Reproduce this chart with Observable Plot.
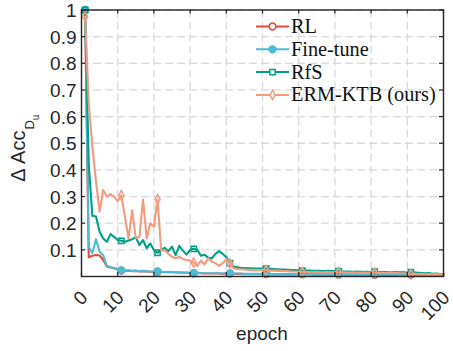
<!DOCTYPE html>
<html><head><meta charset="utf-8">
<script src="https://cdn.jsdelivr.net/npm/d3@7"></script>
<script src="https://cdn.jsdelivr.net/npm/@observablehq/plot@0.6"></script>
<style>body{margin:0;background:#fff} #chart{position:relative;width:453px;height:351px}</style>
</head><body><div id="chart"></div>
<script>
const epochs = d3.range(1, 101);
const xTicks = [0, 10, 20, 30, 40, 50, 60, 70, 80, 90, 100];
const yTicks = [0.1, 0.2, 0.3, 0.4, 0.5, 0.6, 0.7, 0.8, 0.9, 1];
const seriesNames = ["RL", "Fine-tune", "RfS", "ERM-KTB (ours)"];
const seriesColors = ["#E64B35", "#4DBBD5", "#00A087", "#F39B7F"];
const seriesSymbols = ["circle", "circle", "square", "diamond"];
const xLabel = "epoch";

const rl = [1.0, 0.072, 0.078, 0.081, 0.079, 0.062, 0.038, 0.034, 0.031, 0.026,
 0.022, 0.021, 0.022, 0.020, 0.021, 0.019, 0.020, 0.019, 0.018, 0.018,
 0.018, 0.017, 0.016, 0.017, 0.016, 0.015, 0.015, 0.014, 0.014, 0.013,
 0.012, 0.012, 0.012, 0.011, 0.011, 0.011, 0.011, 0.011, 0.010, 0.011,
 0.011, 0.010, 0.010, 0.010, 0.009, 0.009, 0.009, 0.009, 0.009, 0.009,
 0.009, 0.009, 0.008, 0.008, 0.008, 0.008, 0.008, 0.008, 0.008, 0.008,
 0.008, 0.008, 0.008, 0.007, 0.008, 0.007, 0.007, 0.007, 0.007, 0.007,
 0.007, 0.007, 0.007, 0.007, 0.006, 0.007, 0.006, 0.006, 0.006, 0.006,
 0.006, 0.006, 0.006, 0.006, 0.006, 0.006, 0.006, 0.005, 0.006, 0.005,
 0.006, 0.005, 0.005, 0.005, 0.005, 0.005, 0.005, 0.005, 0.005, 0.005];

const fineTune = [1.0, 0.110, 0.088, 0.140, 0.093, 0.080, 0.040, 0.035, 0.032, 0.028,
 0.023, 0.022, 0.023, 0.021, 0.022, 0.020, 0.021, 0.020, 0.019, 0.019,
 0.019, 0.018, 0.017, 0.018, 0.017, 0.016, 0.016, 0.015, 0.015, 0.014,
 0.013, 0.013, 0.013, 0.012, 0.012, 0.012, 0.012, 0.012, 0.011, 0.012,
 0.012, 0.011, 0.011, 0.011, 0.010, 0.010, 0.010, 0.010, 0.010, 0.010,
 0.010, 0.010, 0.009, 0.009, 0.009, 0.009, 0.009, 0.009, 0.009, 0.009,
 0.009, 0.009, 0.009, 0.008, 0.009, 0.008, 0.008, 0.008, 0.008, 0.008,
 0.008, 0.008, 0.008, 0.008, 0.007, 0.008, 0.007, 0.007, 0.007, 0.007,
 0.007, 0.007, 0.007, 0.007, 0.007, 0.007, 0.007, 0.006, 0.007, 0.006,
 0.007, 0.006, 0.006, 0.006, 0.006, 0.006, 0.006, 0.006, 0.006, 0.006];

const rfs = [1.0, 0.420, 0.228, 0.225, 0.168, 0.143, 0.130, 0.159, 0.149, 0.137,
 0.134, 0.130, 0.135, 0.140, 0.147, 0.118, 0.137, 0.106, 0.124, 0.099,
 0.089, 0.099, 0.108, 0.095, 0.112, 0.080, 0.115, 0.097, 0.082, 0.100,
 0.104, 0.100, 0.078, 0.082, 0.070, 0.068, 0.085, 0.095, 0.085, 0.072,
 0.050, 0.037, 0.035, 0.033, 0.032, 0.031, 0.031, 0.030, 0.030, 0.030,
 0.029, 0.028, 0.028, 0.027, 0.026, 0.026, 0.025, 0.024, 0.024, 0.023,
 0.022, 0.022, 0.022, 0.021, 0.021, 0.021, 0.020, 0.021, 0.020, 0.020,
 0.020, 0.019, 0.019, 0.019, 0.018, 0.019, 0.018, 0.018, 0.018, 0.017,
 0.018, 0.017, 0.017, 0.017, 0.016, 0.016, 0.017, 0.016, 0.016, 0.015,
 0.016, 0.015, 0.014, 0.013, 0.012, 0.013, 0.010, 0.011, 0.009, 0.009];

const ermKtb = [0.975, 0.650, 0.490, 0.357, 0.243, 0.325, 0.300, 0.309, 0.300, 0.283,
 0.305, 0.224, 0.143, 0.249, 0.143, 0.149, 0.289, 0.143, 0.200, 0.187,
 0.290, 0.099, 0.098, 0.085, 0.074, 0.068, 0.074, 0.066, 0.062, 0.060,
 0.052, 0.040, 0.060, 0.045, 0.068, 0.056, 0.050, 0.040, 0.050, 0.065,
 0.049, 0.031, 0.028, 0.027, 0.026, 0.025, 0.025, 0.024, 0.024, 0.024,
 0.024, 0.022, 0.022, 0.021, 0.021, 0.020, 0.020, 0.019, 0.019, 0.018,
 0.017, 0.017, 0.017, 0.016, 0.017, 0.016, 0.016, 0.017, 0.016, 0.016,
 0.016, 0.016, 0.015, 0.015, 0.015, 0.015, 0.014, 0.015, 0.014, 0.015,
 0.015, 0.014, 0.014, 0.013, 0.014, 0.013, 0.013, 0.012, 0.012, 0.011,
 0.008, 0.010, 0.009, 0.010, 0.008, 0.009, 0.008, 0.009, 0.008, 0.008];

const seriesValues = [rl, fineTune, rfs, ermKtb];

const W = 453, H = 351, mL = 81, mR = 10, mT = 9.5, mB = 75;
const plotW = W - mL - mR, plotH = H - mT - mB;
const tickLen = 4;
const axisColor = "#262626";

const seriesMarks = [];
seriesNames.forEach((name, s) => {
  const rows = epochs.map((e, i) => ({epoch: e, value: seriesValues[s][i], idx: i}));
  const markerRows = rows.filter(d => d.idx % 10 === 0);
  seriesMarks.push(Plot.line(rows, {x: "epoch", y: "value", stroke: seriesColors[s], strokeWidth: 2.1}));
  const sym = seriesSymbols[s];
  const filled = name === "Fine-tune";
  const r = sym === "diamond" ? 2.8 : sym === "square" ? 3.0 : 3.4;
  seriesMarks.push(Plot.dot(markerRows, {x: "epoch", y: "value", symbol: sym, r,
    stroke: seriesColors[s], strokeWidth: 1.5, fill: filled ? seriesColors[s] : "none"}));
});

const plot = Plot.plot({
  width: W, height: H, marginLeft: mL, marginRight: mR, marginTop: mT, marginBottom: mB,
  style: {fontFamily: "'Liberation Sans', Arial, Helvetica, sans-serif", fontSize: "19px", color: axisColor, background: "white", overflow: "visible"},
  x: {domain: [0, 100]},
  y: {domain: [0, 1]},
  marks: [
    Plot.gridX(xTicks, {stroke: "#d9d9d9", strokeOpacity: 1, strokeDasharray: "8,4", strokeWidth: 1.3}),
    Plot.gridY(yTicks, {stroke: "#d9d9d9", strokeOpacity: 1, strokeDasharray: "8,4", strokeWidth: 1.3}),
    ...seriesMarks,
    Plot.frame({stroke: axisColor, strokeWidth: 1.4}),
    Plot.tickX(xTicks, {x: d => d, insetTop: plotH - tickLen, stroke: axisColor, strokeWidth: 1.2}),
    Plot.tickX(xTicks, {x: d => d, insetBottom: plotH - tickLen, stroke: axisColor, strokeWidth: 1.2}),
    Plot.tickY(yTicks, {y: d => d, insetRight: plotW - tickLen, stroke: axisColor, strokeWidth: 1.2}),
    Plot.tickY(yTicks, {y: d => d, insetLeft: plotW - tickLen, stroke: axisColor, strokeWidth: 1.2}),
    Plot.axisY(yTicks, {tickSize: 0, tickPadding: 5, dy: 1, fontSize: 19, label: null, tickFormat: d => String(+d.toFixed(1))}),
    Plot.axisX(xTicks, {tickSize: 0, tickPadding: 0, tickRotate: -45, textAnchor: "end", lineAnchor: "middle", dx: 3, dy: 18, fontSize: 19, label: null})
  ]
});

document.getElementById("chart").appendChild(plot);
const svg = d3.select(plot);
const xs = plot.scale("x"), ys = plot.scale("y");

// x axis label
svg.append("text")
  .attr("x", (xs.apply(0) + xs.apply(100)) / 2)
  .attr("y", H - 11)
  .attr("text-anchor", "middle")
  .attr("fill", axisColor)
  .style("font-size", "19px")
  .text(xLabel);

// y axis label with subscripts
const yl = svg.append("text")
  .attr("transform", `translate(25,${(ys.apply(0) + ys.apply(1)) / 2 + 39}) rotate(-90)`)
  .attr("text-anchor", "start")
  .attr("fill", axisColor)
  .style("font-size", "20px");
yl.append("tspan").text("\u0394 Acc");
yl.append("tspan").attr("dy", 9).attr("dx", 1).style("font-size", "13px").text("D");
yl.append("tspan").attr("dy", 5).style("font-size", "10px").text("u");

// legend
const lg = svg.append("g").attr("transform", "translate(256,26.5)");
seriesNames.forEach((name, s) => {
  const g = lg.append("g").attr("transform", `translate(0,${s * 22.8})`);
  g.append("line").attr("x1", 0).attr("x2", 33).attr("y1", 0).attr("y2", 0)
    .attr("stroke", seriesColors[s]).attr("stroke-width", 2);
  const sym = seriesSymbols[s];
  const symType = sym === "circle" ? d3.symbolCircle : sym === "square" ? d3.symbolSquare : d3.symbolDiamond;
  const r = sym === "diamond" ? 2.8 : sym === "square" ? 3.0 : 3.4;
  g.append("path").attr("transform", "translate(16.5,0)")
    .attr("d", d3.symbol(symType, Math.PI * r * r)())
    .attr("stroke", seriesColors[s]).attr("stroke-width", 1.5)
    .attr("fill", name === "Fine-tune" ? seriesColors[s] : "white");
  g.append("text").attr("x", 35).attr("y", 6.5)
    .attr("text-anchor", "start")
    .style("font-family", "'Liberation Serif', 'Times New Roman', serif")
    .style("font-size", "20.3px").attr("fill", "#111")
    .text(name);
});
</script>
</body></html>
